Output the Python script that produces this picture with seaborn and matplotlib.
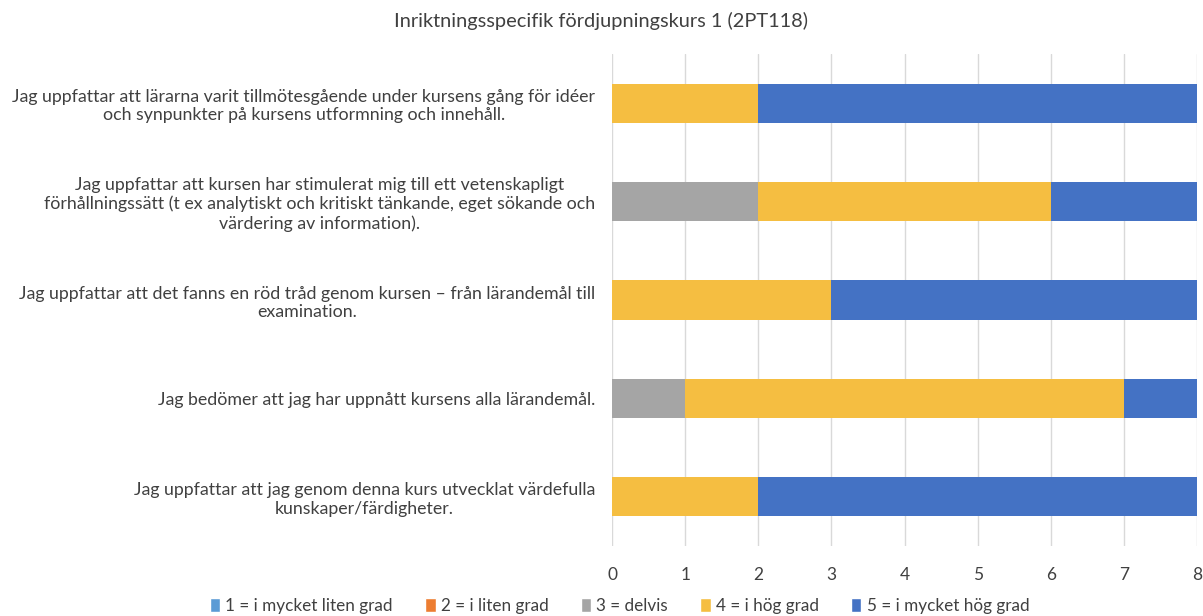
import numpy as np
import pandas as pd
import matplotlib.pyplot as plt
import seaborn as sns
from matplotlib.patches import Patch

# Frågor (uppifrån och ned)
questions = [
    "Jag uppfattar att lärarna varit tillmötesgående under kursens gång för idéer\noch synpunkter på kursens utformning och innehåll.",
    "Jag uppfattar att kursen har stimulerat mig till ett vetenskapligt\nförhållningssätt (t ex analytiskt och kritiskt tänkande, eget sökande och\nvärdering av information).",
    "Jag uppfattar att det fanns en röd tråd genom kursen – från lärandemål till\nexamination.",
    "Jag bedömer att jag har uppnått kursens alla lärandemål.",
    "Jag uppfattar att jag genom denna kurs utvecklat värdefulla\nkunskaper/färdigheter.",
]

levels = ["1 = i mycket liten grad", "2 = i liten grad", "3 = delvis",
          "4 = i hög grad", "5 = i mycket hög grad"]

v1 = [0, 0, 0, 0, 0]
v2 = [0, 0, 0, 0, 0]
v3 = [0, 2, 0, 1, 0]
v4 = [2, 4, 3, 6, 2]
v5 = [6, 2, 5, 1, 6]

colors = ["#5B9BD5", "#ED7D31", "#A5A5A5", "#F5BE41", "#4472C4"]

sns.set_theme(style="whitegrid")
plt.rcParams['font.family'] = ['Lato', 'DejaVu Sans']

df = pd.DataFrame({"fraga": questions, levels[0]: v1, levels[1]: v2,
                   levels[2]: v3, levels[3]: v4, levels[4]: v5})
cum = df[levels].cumsum(axis=1)

fig = plt.figure(figsize=(12.03, 6.16), dpi=100)
ax = fig.add_axes([612 / 1203, 70 / 616, 585 / 1203, 492 / 616])

# rita kumulativa staplar bakifrån
for lvl, col in reversed(list(zip(levels, colors))):
    sns.barplot(x=cum[lvl], y=df["fraga"], color=col, orient="h",
                width=0.4, ax=ax, saturation=1, linewidth=0)

ax.set_xlim(0, 8)
ax.set_xticks(range(0, 9))
ax.set_xlabel("")
ax.set_ylabel("")
ax.grid(axis="y", visible=False)
ax.grid(axis="x", color="#D9D9D9", linewidth=1)
for s in ax.spines.values():
    s.set_visible(False)
ax.tick_params(axis="x", labelsize=12.5, colors="#404040", pad=15, length=0)
ax.tick_params(axis="y", labelsize=12.8, colors="#404040", pad=12, length=0)
for lab in ax.get_yticklabels():
    lab.set_horizontalalignment("right")
    lab.set_multialignment("center")

fig.suptitle("Inriktningsspecifik fördjupningskurs 1 (2PT118)", y=0.98,
             fontsize=14.4, color="#404040")

handles = [Patch(facecolor=c, label=l) for c, l in zip(colors, levels)]
fig.legend(handles=handles, loc="lower center", ncol=5, frameon=False,
           bbox_to_anchor=(0.515, -0.022), fontsize=12.3, handlelength=0.6,
           handleheight=0.9, handletextpad=0.3, columnspacing=1.9,
           labelcolor="#404040")

fig.savefig("out.png", dpi=100)
